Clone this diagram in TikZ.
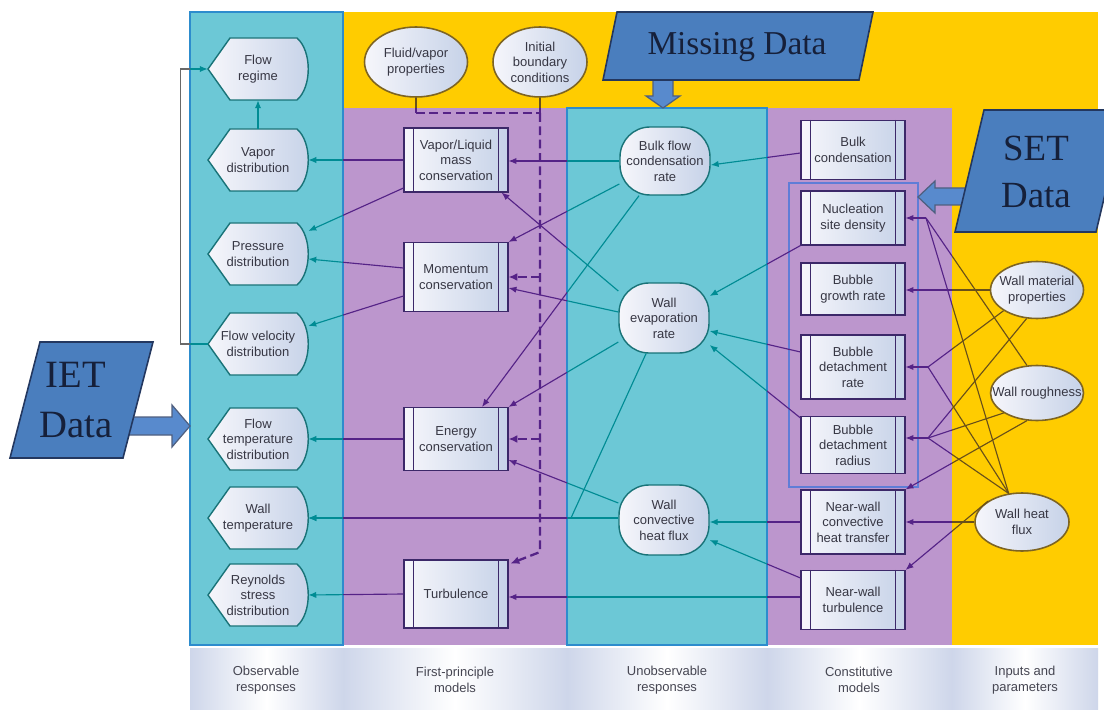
\documentclass[tikz,border=0pt]{standalone}
\usepackage{fontspec}
\setmainfont{Liberation Serif}
\setsansfont{Liberation Sans}
\usetikzlibrary{arrows.meta,calc,shapes.geometric}

\definecolor{cyanbg}{RGB}{108,200,214}
\definecolor{cyanbd}{RGB}{45,140,205}
\definecolor{purbg}{RGB}{188,150,205}
\definecolor{yelbg}{RGB}{255,204,0}
\definecolor{setbd}{RGB}{95,125,215}
\definecolor{tealln}{RGB}{0,140,148}
\definecolor{purln}{RGB}{85,35,135}
\definecolor{yelln}{RGB}{105,80,25}
\definecolor{grayln}{RGB}{105,105,105}
\definecolor{boxl}{RGB}{246,246,251}
\definecolor{boxr}{RGB}{198,210,232}
\definecolor{procbd}{RGB}{60,40,105}
\definecolor{obsbd}{RGB}{25,115,120}
\definecolor{ellbd}{RGB}{125,100,35}
\definecolor{txt}{RGB}{55,55,68}
\definecolor{pgfill}{RGB}{74,126,190}
\definecolor{pgbd}{RGB}{35,55,95}
\definecolor{pgtxt}{RGB}{22,32,58}
\definecolor{arfill}{RGB}{88,138,205}
\definecolor{bandc}{RGB}{206,214,234}
\colorlet{lc}{tealln}

\newcommand\obsn[4]{%
  \path[obsshape] (#2-50,#3) -- (#2-28,#3-31) -- (#2+39,#3-31)
     .. controls (#2+54,#3-18) and (#2+54,#3+18) .. (#2+39,#3+31)
     -- (#2-28,#3+31) -- cycle;
  \node[obstxt] (#1) at (#2,#3) {#4};}

\newcommand\procn[5]{%
  \node[proc, minimum height=#4] (#1) at (#2,#3) {#5};
  \draw[procbd, line width=0.6pt]
     ([xshift=0.2cm]#1.north west) -- ([xshift=0.2cm]#1.south west)
     ([xshift=-0.2cm]#1.north east) -- ([xshift=-0.2cm]#1.south east);}

% ellipse node: name, x, y, width, height, text
\newcommand\elln[6]{%
  \node[ell, minimum width=#4, minimum height=#5] (#1) at (#2,#3) {};
  \node (#1-t) at (#1.center) {#6};}

\newcommand\conns{%
  % observable responses
  \draw[cn] (fvd.west) -- ++(-27,0) |- (fr.west);
  \draw[cn] (vd.north) -- (fr.south);
  \draw[cn] (vl.west) -- (vd.east);
  \draw[cn] (vl.west |- 0,188) -- (pd.east |- 0,231);
  \draw[cn] (mom.west |- 0,268) -- (pd.east |- 0,259);
  \draw[cn] (mom.west |- 0,296) -- (fvd.east |- 0,326);
  \draw[cn] (en.west) -- (ftd.east);
  \draw[cn] (turb.west) -- (rsd.east);
  % unobservable responses
  \draw[cn] (bfc.west) -- (vl.east |- bfc.west);
  \draw[cn] (bfc.west |- 0,184) -- (mom.north east);
  \draw[cn] ($(bfc.south)+(-26,0)$) -- ($(en.north)+(26,0)$);
  \draw[cn] (we.west |- 0,291) -- ($(vl.south east)+(-7,0)$);
  \draw[cn] (we.west |- 0,312) -- (mom.east |- 0,288);
  \draw[cn] (we.west |- 0,342) -- (en.north east);
  \draw[cn] ($(we.south)+(-18,0)$) -- (wtj) -- (wt.east);
  \draw[cn] (wchf.west |- wt.east) -- (wt.east);
  \draw[cn] (wchf.west |- 0,503) -- (en.east |- 0,460);
  % constitutive models
  \draw[cn] (bc.west |- 0,153) -- (bfc.east |- 0,165);
  \draw[cn] (nsd.south west) -- (we.east |- 0,296);
  \draw[cn] (bdr.west |- 0,352) -- (we.east |- 0,331);
  \draw[cn] (bdrad.west |- 0,418) -- (we.east |- 0,345);
  \draw[cn] (nwcht.west) -- (wchf.east |- nwcht.west);
  \draw[cn] (nwt.west |- 0,578) -- (wchf.east |- 0,540);
  \draw[cn] (nwt.west |- 0,597) -- (turb.east |- 0,597);
  % boundary data
  \draw[cs] (fv.south) -- (fv.south |- 0,113);
  \draw[cdl] (fv.south |- 0,113) -- (ibc.south |- 0,113);
  \draw[cs] (ibc.south) -- (ibc.south |- 0,113);
  \draw[cd] (ibc.south |- 0,113) -- (ibc.south |- 0,552) -- ($(turb.north east)+(2,4)$);
  \draw[cd] (ibc.south |- 0,277) -- (mom.east |- 0,277);
  \draw[cd] (ibc.south |- 0,439) -- (en.east |- 0,439);
  % inputs and parameters
  \draw[cn] (wmp.west) -- (bgr.east |- wmp.west);
  \draw[cn] (f1) -- (nsd.east |- f1);
  \draw[cn] (f2) -- (bdr.east |- f2);
  \draw[cn] (f3) -- (bdrad.east |- f3);
  \draw[cl] (wmp.south west) -- (f2);
  \draw[cl] (wmp.250) -- (f3);
  \draw[cl] (wr.110) -- (f1);
  \draw[cl] (wr.south west) -- (f3);
  \draw[cn] (wr.250) -- (nwcht.north east);
  \draw[cl] (whf.115) -- (f1);
  \draw[cl] (whf.115) -- (f2);
  \draw[cl] (whf.115) -- (f3);
  \draw[cn] (whf.west) -- (nwcht.east |- whf.west);
  \draw[cn] (whf.north west) -- (nwt.north east);
}

\begin{document}
\begin{tikzpicture}[x=0.02cm,y=-0.02cm,
  every node/.style={font=\sffamily\fontsize{7.4}{8.9}\selectfont, text=txt, align=center, inner sep=0pt},
  obsshape/.style={draw=obsbd, line width=0.8pt, left color=boxl, right color=boxr},
  obstxt/.style={minimum width=2cm, minimum height=1.24cm},
  proc/.style={draw=procbd, line width=0.6pt, left color=boxl, right color=boxr, minimum width=2.08cm},
  unob/.style={draw=obsbd, line width=0.8pt, left color=boxl, right color=boxr, minimum width=1.8cm, minimum height=1.36cm, rounded corners=0.6cm},
  ell/.style={ellipse, draw=ellbd, line width=0.9pt, left color=boxl, right color=boxr},
  pgram/.style={fill=pgfill, draw=pgbd, line width=0.9pt},
  barrow/.style={fill=arfill, draw=pgbd!80, line width=0.7pt},
  cn/.style={draw=lc, line width=0.65pt, -{Latex[length=4.5pt,width=3.6pt]}},
  cl/.style={draw=lc, line width=0.65pt},
  cd/.style={draw=lc, line width=1.3pt, dash pattern=on 5pt off 2.6pt, -{Latex[length=5pt,width=4.5pt]}},
  cdl/.style={draw=lc, line width=1.3pt, dash pattern=on 5pt off 2.6pt},
  cs/.style={draw=lc, line width=1.3pt},
  bandcell/.style={left color=bandc, right color=bandc, middle color=white},
  bandtxt/.style={text={rgb,255:red,70;green,70;blue,82}}
]
\fill[white] (0,0) rectangle (1104,709);
\clip (0,0) rectangle (1104,709);

% column backgrounds
\fill[yelbg] (343,12) rectangle (1098,645);
\fill[purbg] (343,108) rectangle (952,645);
\filldraw[fill=cyanbg, draw=cyanbd, line width=1.2pt] (190,12) rectangle (343,645);
\filldraw[fill=cyanbg, draw=cyanbd, line width=1.2pt] (567,108) rectangle (767,645);
\draw[setbd, line width=1.5pt] (789,183) rectangle (918,487);

% bottom labels
\foreach \a/\b in {190/343,343/567,567/767,767/952,952/1098}
  \shade[bandcell] (\a,648) rectangle (\b,709);
\node[bandtxt] (lb1) at (266,680) {Observable\\responses};
\node[bandtxt] (lb2) at (455,680) {First-principle\\models};
\node[bandtxt] (lb3) at (667,680) {Unobservable\\responses};
\node[bandtxt] (lb4) at (859,680) {Constitutive\\models};
\node[bandtxt] (lb5) at (1025,680) {Inputs and\\parameters};

% data blocks
\filldraw[barrow] (653,78) -- (673,78) -- (673,96) -- (680,96) -- (663,108) -- (646,96) -- (653,96) -- cycle;
\filldraw[pgram] (603,80) -- (617,12) -- (873,12) -- (859,80) -- cycle;
\node[font=\rmfamily\fontsize{19}{24}\selectfont, text=pgtxt] (md) at (737,47) {Missing Data};

\filldraw[barrow] (968,188) -- (935,188) -- (935,181) -- (918,197) -- (935,213) -- (935,205) -- (968,205) -- cycle;
\filldraw[pgram] (955,232) -- (984,110) -- (1125,110) -- (1096,232) -- cycle;
\node[font=\rmfamily\fontsize{21}{26.5}\selectfont, text=pgtxt] (setd) at (1036,172) {SET\\Data};

\filldraw[barrow] (128,417) -- (172,417) -- (172,405) -- (190,426) -- (172,447) -- (172,435) -- (128,435) -- cycle;
\filldraw[pgram] (10,458) -- (40,342) -- (153,342) -- (123,458) -- cycle;
\node[font=\rmfamily\fontsize{22}{28}\selectfont, text=pgtxt] (ietd) at (76,400) {IET\\Data};

% observable responses
\obsn{fr}{258}{69}{Flow\\regime}
\obsn{vd}{258}{160}{Vapor\\distribution}
\obsn{pd}{258}{254}{Pressure\\distribution}
\obsn{fvd}{258}{344}{Flow velocity\\distribution}
\obsn{ftd}{258}{439}{Flow\\temperature\\distribution}
\obsn{wt}{258}{518}{Wall\\temperature}
\obsn{rsd}{258}{595}{Reynolds\\stress\\distribution}

% first-principle models
\procn{vl}{456}{160}{1.28cm}{Vapor/Liquid\\mass\\conservation}
\procn{mom}{456}{277}{1.38cm}{Momentum\\conservation}
\procn{en}{456}{439}{1.26cm}{Energy\\conservation}
\procn{turb}{456}{594}{1.36cm}{Turbulence}

% unobservable responses
\node[unob] (bfc) at (665,161) {Bulk flow\\condensation\\rate};
\node[unob, minimum height=1.4cm] (we) at (664,318) {Wall\\evaporation\\rate};
\node[unob, minimum height=1.4cm] (wchf) at (664,520) {Wall\\convective\\heat flux};

% constitutive models
\procn{bc}{853}{150}{1.18cm}{Bulk\\condensation}
\procn{nsd}{853}{218}{1.08cm}{Nucleation\\site density}
\procn{bgr}{853}{289}{1.04cm}{Bubble\\growth rate}
\procn{bdr}{853}{367}{1.28cm}{Bubble\\detachment\\rate}
\procn{bdrad}{853}{445}{1.14cm}{Bubble\\detachment\\radius}
\procn{nwcht}{853}{522}{1.28cm}{Near-wall\\convective\\heat transfer}
\procn{nwt}{853}{600}{1.18cm}{Near-wall\\turbulence}

% ellipses
\elln{fv}{416}{62}{2.06cm}{1.4cm}{Fluid/vapor\\properties}
\elln{ibc}{540}{62}{1.88cm}{1.4cm}{Initial\\boundary\\conditions}
\elln{wmp}{1037}{290}{1.86cm}{1.14cm}{Wall material\\properties}
\elln{wr}{1037}{393}{1.86cm}{1.1cm}{Wall roughness}
\elln{whf}{1022}{522}{1.88cm}{1.16cm}{Wall heat\\flux}

% junctions
\coordinate (wtj) at (571,518);
\coordinate (f1) at (926,218);
\coordinate (f2) at (928,367);
\coordinate (f3) at (928,438);

% connectors, coloured by the region they cross
\begin{scope}
  \clip (190,12) rectangle (343,645) (567,108) rectangle (767,645);
  \colorlet{lc}{tealln}\conns
\end{scope}
\begin{scope}
  \clip (343,108) rectangle (567,645) (767,108) rectangle (952,645);
  \colorlet{lc}{purln}\conns
\end{scope}
\begin{scope}
  \clip (343,0) rectangle (1104,108) (952,108) rectangle (1104,645);
  \colorlet{lc}{yelln}\conns
\end{scope}
\begin{scope}
  \clip (0,0) rectangle (190,709) (190,0) rectangle (343,12) (190,645) rectangle (1104,709);
  \colorlet{lc}{grayln}\conns
\end{scope}
\end{tikzpicture}
\end{document}
